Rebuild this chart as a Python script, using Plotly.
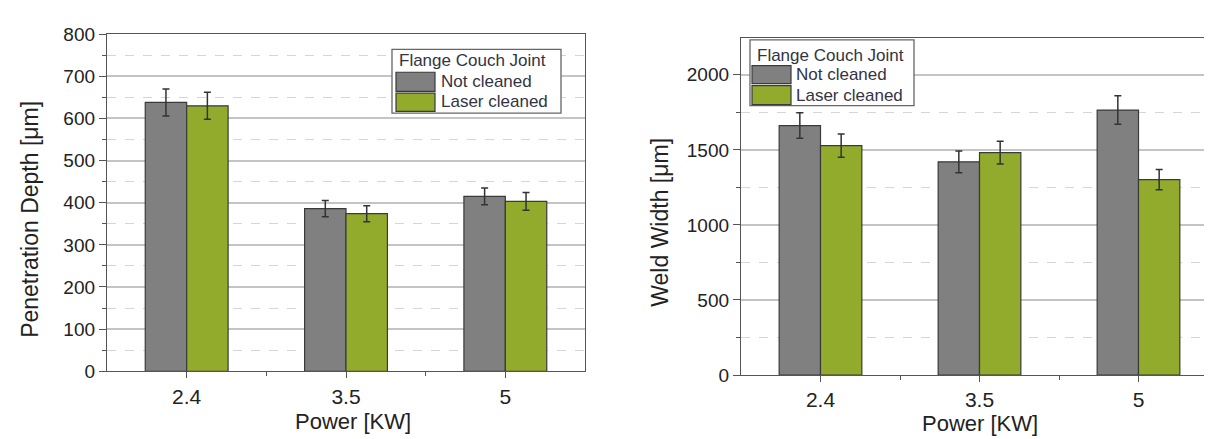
import plotly.graph_objects as go

# ---------------- data ----------------
power_labels = ["2.4", "3.5", "5"]
cat_pos = [0, 1, 2]

depth_not_cleaned = [638, 386, 415]
depth_not_cleaned_err = [32, 19, 20]
depth_laser_cleaned = [630, 374, 403]
depth_laser_cleaned_err = [32, 19, 21]

width_not_cleaned = [1662, 1420, 1765]
width_not_cleaned_err = [85, 72, 95]
width_laser_cleaned = [1528, 1481, 1302]
width_laser_cleaned_err = [77, 76, 67]

series_names = ["Not cleaned", "Laser cleaned"]
legend_title = "Flange Couch Joint"

# ---------------- style ----------------
W, H = 1212, 439
FONT = "Liberation Sans, Arial, sans-serif"
GREY = "#808080"
GREEN = "#93AB2C"
EDGE = "#3a3a3a"
TXT = "#222222"


def px(x):
    return x / W


def py(y):
    return 1 - y / H


fig = go.Figure()


def add_bars(xa, ya, v1, e1, v2, e2):
    for vals, errs, name, col in [(v1, e1, series_names[0], GREY), (v2, e2, series_names[1], GREEN)]:
        fig.add_trace(go.Bar(
            x=cat_pos, y=vals, name=name, xaxis=xa, yaxis=ya,
            marker=dict(color=col, line=dict(color=EDGE, width=1.2)),
            error_y=dict(type="data", array=errs, visible=True, color="#333333",
                         thickness=1.5, width=3.5),
            showlegend=False,
        ))


add_bars("x", "y", depth_not_cleaned, depth_not_cleaned_err, depth_laser_cleaned, depth_laser_cleaned_err)
add_bars("x2", "y2", width_not_cleaned, width_not_cleaned_err, width_laser_cleaned, width_laser_cleaned_err)


def xaxis_cfg(domain):
    return dict(
        domain=domain, range=[-0.5, 2.5], tickvals=cat_pos, ticktext=power_labels,
        showline=True, linecolor="#555555", linewidth=1.3, mirror=True,
        ticks="outside", ticklen=6, tickwidth=1.2, tickcolor="#555555",
        minor=dict(tickvals=[0.5, 1.5], ticks="outside", ticklen=4, tickcolor="#555555"),
        showgrid=False, zeroline=False,
        tickfont=dict(family=FONT, size=21, color=TXT),
        fixedrange=True,
    )


def yaxis_cfg(domain, rng, dtick, anchor):
    return dict(
        domain=domain, range=rng, dtick=dtick, anchor=anchor,
        showline=True, linecolor="#555555", linewidth=1.3, mirror=True,
        ticks="outside", ticklen=7, tickwidth=1.2, tickcolor="#555555",
        showgrid=True, gridcolor="#c4c4c4", gridwidth=1.6,
        minor=dict(dtick=dtick / 2, ticks="outside", ticklen=4, tickcolor="#555555",
                   showgrid=True, gridcolor="#d6d6d6", griddash="dash", gridwidth=1),
        zeroline=False,
        tickfont=dict(family=FONT, size=19, color=TXT),
        fixedrange=True,
    )


fig.update_layout(
    width=W, height=H,
    margin=dict(l=0, r=0, t=0, b=0),
    paper_bgcolor="white", plot_bgcolor="white",
    barmode="group", bargap=0.48, bargroupgap=0,
    font=dict(family=FONT, color=TXT),
    xaxis=dict(**xaxis_cfg([px(99), px(577)]), anchor="y"),
    yaxis=yaxis_cfg([py(371), py(17)], [0, 800], 100, "x"),
    xaxis2=dict(**xaxis_cfg([px(733), px(1210)]), anchor="y2"),
    yaxis2=yaxis_cfg([py(375), py(21)], [0, 2245], 500, "x2"),
)

annotations = []
shapes = []

# axis titles
TITLE_FONT = dict(family=FONT, size=22, color=TXT)
annotations.append(dict(text="Penetration Depth [μm]", x=px(22), y=py(212), xref="paper", yref="paper",
                        xanchor="center", yanchor="middle", showarrow=False, textangle=-90,
                        font=dict(family=FONT, size=23, color=TXT)))
annotations.append(dict(text="Weld Width [μm]", x=px(652), y=py(215), xref="paper", yref="paper",
                        xanchor="center", yanchor="middle", showarrow=False, textangle=-90,
                        font=dict(family=FONT, size=23, color=TXT)))
annotations.append(dict(text="Power [KW]", x=px(345), y=py(424), xref="paper", yref="paper",
                        xanchor="center", yanchor="middle", showarrow=False, font=TITLE_FONT))
annotations.append(dict(text="Power [KW]", x=px(972), y=py(426), xref="paper", yref="paper",
                        xanchor="center", yanchor="middle", showarrow=False, font=TITLE_FONT))


def add_legend(box, title_xy, sw_x, rows, text_x):
    x0, y0, x1, y1 = box
    shapes.append(dict(type="rect", xref="paper", yref="paper", x0=px(x0), x1=px(x1), y0=py(y1), y1=py(y0),
                       line=dict(color="#666666", width=1.3), fillcolor="white", layer="above"))
    annotations.append(dict(text=legend_title, x=px(title_xy[0]), y=py(title_xy[1]), xref="paper", yref="paper",
                            xanchor="left", yanchor="middle", showarrow=False,
                            font=dict(family=FONT, size=17, color="#333344")))
    for (ya, yb, yc), name, col in zip(rows, series_names, [GREY, GREEN]):
        shapes.append(dict(type="rect", xref="paper", yref="paper", x0=px(sw_x[0]), x1=px(sw_x[1]),
                           y0=py(yb), y1=py(ya), line=dict(color=EDGE, width=1.2), fillcolor=col, layer="above"))
        annotations.append(dict(text=name, x=px(text_x), y=py(yc), xref="paper", yref="paper",
                                xanchor="left", yanchor="middle", showarrow=False,
                                font=dict(family=FONT, size=17, color="#333344")))


add_legend((384, 33, 553, 100), (389, 45), (388, 427), [(57, 77, 67), (79, 98, 88)], 431)
add_legend((742, 23, 906, 92), (747, 39), (744, 783), [(50, 69, 59), (71, 91, 81)], 786)

fig.update_layout(annotations=annotations, shapes=shapes)

fig.write_html("out.html")
